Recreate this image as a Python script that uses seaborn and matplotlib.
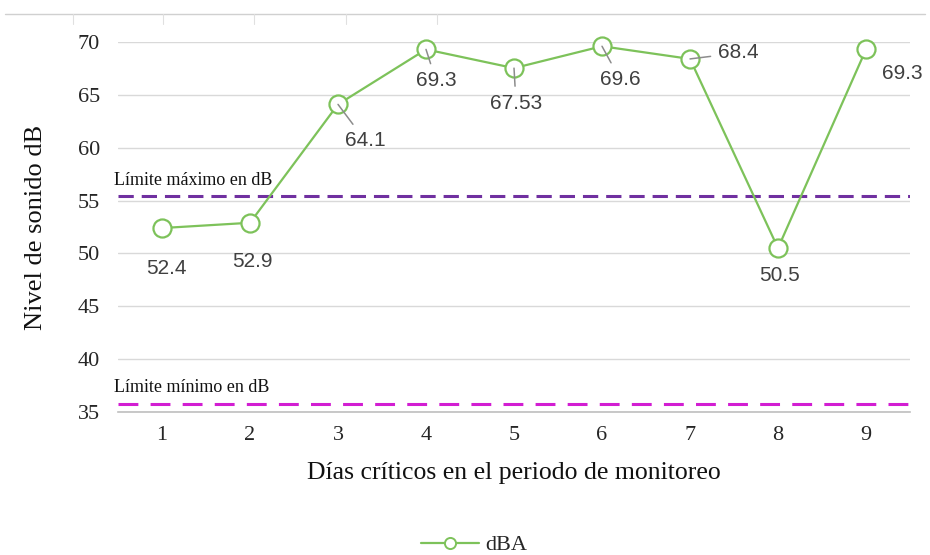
import matplotlib
matplotlib.use("Agg")
import matplotlib.pyplot as plt
from matplotlib.lines import Line2D
import seaborn as sns
import pandas as pd

# Daily noise readings
dias = [1, 2, 3, 4, 5, 6, 7, 8, 9]
dba = [52.4, 52.9, 64.1, 69.3, 67.53, 69.6, 68.4, 50.5, 69.3]
etiquetas = ["52.4", "52.9", "64.1", "69.3", "67.53", "69.6", "68.4", "50.5", "69.3"]

# Reference limits
limite_maximo = 55.4
limite_minimo = 35.8

y_ticks = [35, 40, 45, 50, 55, 60, 65, 70]

df = pd.DataFrame({"Día": dias, "dBA": dba})

sns.set_theme(style="white")
plt.rcParams["font.family"] = ["Liberation Serif", "DejaVu Serif"]

fig = plt.figure(figsize=(9.3, 5.55), dpi=100)
ax = fig.add_axes([0.1269, 0.2577, 0.8516, 0.6666])

verde = "#7DC25A"
sns.lineplot(data=df, x="Día", y="dBA", ax=ax, color=verde, linewidth=1.6,
             marker="o", markersize=13, markerfacecolor="white",
             markeredgecolor=verde, markeredgewidth=1.6, clip_on=False,
             zorder=5, legend=False)

# Limit lines
ax.axhline(limite_maximo, color="#7030A0", linestyle=(0, (5, 2.6)), linewidth=2.2, zorder=3)
ax.axhline(limite_minimo, color="#D21ED2", linestyle=(0, (6.5, 4)), linewidth=2.2, zorder=3)
ax.text(0.45, limite_maximo + 0.7, "Límite máximo en dB", fontsize=13, color="#111111",
        ha="left", va="bottom")
ax.text(0.45, limite_minimo + 0.7, "Límite mínimo en dB", fontsize=13, color="#111111",
        ha="left", va="bottom")

# Data labels (offsets in pixels) with leader lines where the label sits away
offsets = [(4, -40), (2, -39), (27, -36), (10, -31), (2, -35), (18, -33), (28, 6), (2, -27), (36, -24)]
leaders = [False, False, True, True, True, True, True, False, False]
aligns = ["center"] * 6 + ["left", "center", "center"]
for x, y, lab, off, lead, ha in zip(dias, dba, etiquetas, offsets, leaders, aligns):
    kw = {}
    if lead:
        kw["arrowprops"] = dict(arrowstyle="-", color="#8C8C8C", linewidth=1.1,
                                shrinkA=3, shrinkB=0)
    ax.annotate(lab, xy=(x, y), xytext=off, textcoords="offset pixels",
                ha=ha, va="center", fontsize=15, color="#404040",
                family=["Liberation Sans", "DejaVu Sans"], zorder=6, **kw)

ax.set_xlim(0.5, 9.5)
ax.set_ylim(35, 70)
ax.set_xticks(dias)
ax.set_yticks(y_ticks)
ax.tick_params(axis="both", length=0, labelsize=16, colors="#262626", pad=10)
ax.tick_params(axis="y", pad=13)
ax.grid(axis="y", color="#D9D9D9", linewidth=1.0)
ax.grid(axis="x", visible=False)
for s in ["top", "right", "left"]:
    ax.spines[s].set_visible(False)
ax.spines["bottom"].set_color("#BFBFBF")
ax.spines["bottom"].set_linewidth(1.2)

ax.set_xlabel("Días críticos en el periodo de monitoreo", fontsize=18.5, color="#111111", labelpad=12)
ax.set_ylabel("Nivel de sonido dB", fontsize=19, color="#111111", labelpad=22)

handle = Line2D([], [], color=verde, linewidth=1.6, marker="o", markersize=8,
                markerfacecolor="white", markeredgecolor=verde, markeredgewidth=1.4)
fig.legend([handle], ["dBA"], loc="center", bbox_to_anchor=(0.51, 0.018), frameon=False,
           fontsize=16, handlelength=2.6, handletextpad=0.3)

# Thin rule along the top edge
fig.add_artist(Line2D([0.005, 0.995], [1 - 14 / 555, 1 - 14 / 555], transform=fig.transFigure,
                      color="#D0D0D0", linewidth=1.0))
for xp in [73, 163, 254, 346, 437]:
    fig.add_artist(Line2D([xp / 930, xp / 930], [1 - 14 / 555, 1 - 24 / 555],
                          transform=fig.transFigure, color="#E0E0E0", linewidth=0.8))

fig.savefig("out.png", dpi=100)
